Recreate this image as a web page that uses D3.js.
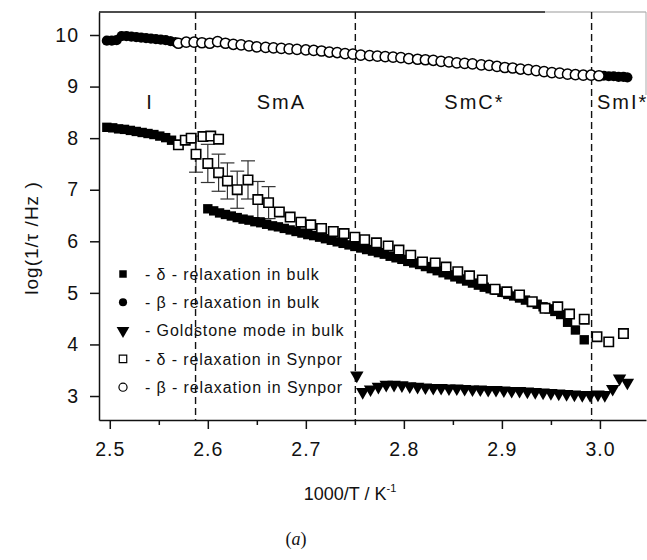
<!DOCTYPE html>
<html>
<head>
<meta charset="utf-8">
<script src="https://cdn.jsdelivr.net/npm/d3@7"></script>
<style>
  body { margin: 0; background: #fff; }
  svg { display: block; }
  text { font-family: "Liberation Sans", Arial, sans-serif; fill: #111; }
</style>
</head>
<body>
<div id="chart"></div>
<script>
// ---- Data: [1000/T, log(1/tau)] ----
const deltaBulk = [
  [2.497, 8.21], [2.503, 8.20], [2.509, 8.18], [2.515, 8.17], [2.521, 8.15], [2.527, 8.13],
  [2.533, 8.11], [2.539, 8.09], [2.545, 8.07], [2.551, 8.04], [2.557, 8.01], [2.563, 7.96],
  [2.600, 6.63], [2.606, 6.59], [2.612, 6.55], [2.618, 6.52], [2.624, 6.49], [2.630, 6.46],
  [2.636, 6.43], [2.642, 6.41], [2.648, 6.38], [2.654, 6.36], [2.660, 6.33], [2.666, 6.30],
  [2.672, 6.28], [2.678, 6.25], [2.684, 6.22], [2.690, 6.19], [2.696, 6.16], [2.702, 6.13],
  [2.708, 6.11], [2.714, 6.08], [2.720, 6.05], [2.726, 6.02], [2.732, 5.99], [2.738, 5.96],
  [2.744, 5.93], [2.750, 5.90], [2.756, 5.87], [2.762, 5.84], [2.768, 5.81], [2.774, 5.78],
  [2.780, 5.75], [2.786, 5.71], [2.792, 5.68], [2.798, 5.65], [2.804, 5.61], [2.810, 5.58],
  [2.816, 5.55], [2.822, 5.51], [2.828, 5.47], [2.834, 5.43], [2.840, 5.39], [2.846, 5.35],
  [2.852, 5.31], [2.858, 5.27], [2.864, 5.23], [2.870, 5.19], [2.876, 5.15], [2.882, 5.11],
  [2.888, 5.08], [2.894, 5.05], [2.900, 5.01], [2.906, 4.97], [2.912, 4.94], [2.918, 4.90],
  [2.924, 4.86], [2.930, 4.82], [2.936, 4.78], [2.942, 4.73], [2.948, 4.69], [2.954, 4.64],
  [2.960, 4.58], [2.967, 4.43], [2.975, 4.28], [2.984, 4.09]
];

const betaBulk = [
  [2.497, 9.89], [2.502, 9.89], [2.507, 9.90], [2.512, 9.98], [2.517, 9.98], [2.522, 9.97],
  [2.527, 9.96], [2.532, 9.95], [2.537, 9.94], [2.542, 9.93], [2.547, 9.92], [2.552, 9.91],
  [2.557, 9.90], [2.562, 9.88], [2.567, 9.86],
  [3.004, 9.21], [3.009, 9.20], [3.014, 9.20], [3.019, 9.19], [3.024, 9.19], [3.028, 9.18]
];

const goldstone = [
  [2.752, 3.40], [2.758, 3.08], [2.766, 3.13], [2.774, 3.18], [2.782, 3.22], [2.790, 3.22],
  [2.798, 3.21], [2.806, 3.19], [2.814, 3.18], [2.822, 3.17], [2.830, 3.16], [2.838, 3.16],
  [2.846, 3.15], [2.854, 3.15], [2.862, 3.14], [2.870, 3.13], [2.878, 3.13], [2.886, 3.12],
  [2.894, 3.12], [2.902, 3.11], [2.910, 3.10], [2.918, 3.10], [2.926, 3.09], [2.934, 3.08],
  [2.942, 3.07], [2.950, 3.06], [2.958, 3.05], [2.966, 3.04], [2.974, 3.03], [2.982, 3.02],
  [2.990, 3.02], [2.998, 3.03], [3.005, 3.02], [3.013, 3.14], [3.020, 3.34], [3.028, 3.26]
];

// [1000/T, log(1/tau), error]
const deltaSynpor = [
  [2.570, 7.87, 0], [2.577, 7.96, 0], [2.583, 8.00, 0], [2.595, 8.03, 0], [2.603, 8.04, 0],
  [2.611, 7.98, 0],
  [2.588, 7.69, 0.35], [2.600, 7.51, 0.37], [2.611, 7.33, 0.36], [2.620, 7.17, 0.35],
  [2.630, 7.00, 0.36], [2.641, 7.19, 0.37], [2.651, 6.81, 0.35], [2.662, 6.75, 0.31],
  [2.673, 6.57, 0], [2.684, 6.47, 0], [2.695, 6.37, 0], [2.705, 6.32, 0], [2.716, 6.25, 0],
  [2.728, 6.19, 0], [2.739, 6.15, 0], [2.750, 6.08, 0], [2.760, 6.03, 0], [2.772, 5.97, 0],
  [2.784, 5.91, 0], [2.795, 5.83, 0], [2.807, 5.73, 0], [2.819, 5.60, 0], [2.832, 5.58, 0],
  [2.843, 5.50, 0], [2.855, 5.41, 0], [2.867, 5.33, 0], [2.880, 5.25, 0], [2.893, 5.07, 0],
  [2.905, 5.02, 0], [2.918, 4.96, 0], [2.931, 4.83, 0], [2.944, 4.70, 0], [2.957, 4.73, 0],
  [2.969, 4.59, 0], [2.984, 4.49, 0], [2.997, 4.15, 0], [3.009, 4.05, 0], [3.024, 4.21, 0]
];

const betaSynpor = [
  [2.570, 9.84], [2.578, 9.86], [2.586, 9.86], [2.594, 9.85], [2.602, 9.84], [2.610, 9.87],
  [2.618, 9.84], [2.626, 9.82], [2.634, 9.81], [2.642, 9.79], [2.650, 9.77], [2.659, 9.76],
  [2.667, 9.75], [2.675, 9.74], [2.683, 9.73], [2.691, 9.72], [2.700, 9.71], [2.708, 9.70],
  [2.716, 9.69], [2.724, 9.67], [2.732, 9.66], [2.740, 9.64], [2.748, 9.63], [2.756, 9.61],
  [2.765, 9.60], [2.773, 9.59], [2.781, 9.58], [2.789, 9.57], [2.797, 9.56], [2.805, 9.54],
  [2.814, 9.53], [2.822, 9.52], [2.830, 9.51], [2.838, 9.49], [2.846, 9.48], [2.854, 9.46],
  [2.862, 9.45], [2.870, 9.44], [2.879, 9.42], [2.887, 9.41], [2.895, 9.39], [2.903, 9.37],
  [2.911, 9.36], [2.919, 9.34], [2.927, 9.33], [2.935, 9.31], [2.943, 9.29], [2.951, 9.27],
  [2.959, 9.26], [2.967, 9.24], [2.975, 9.23], [2.983, 9.22], [2.991, 9.22], [2.999, 9.21]
];

// phase boundaries and labels
const boundaries = [2.5875, 2.7505, 2.9915];
const phaseLabels = [
  { text: "I", x: 2.541 },
  { text: "SmA", x: 2.675 },
  { text: "SmC*", x: 2.872 },
  { text: "SmI*", x: 2.997, anchor: "start" }
];

const xTicks = [2.5, 2.6, 2.7, 2.8, 2.9, 3.0];
const xMinorTicks = [2.55, 2.65, 2.75, 2.85, 2.95];
const yTicks = [3, 4, 5, 6, 7, 8, 9, 10];

const legendItems = [
  { shape: "squareFilled", label: "- δ - relaxation in bulk" },
  { shape: "circleFilled", label: "- β - relaxation in bulk" },
  { shape: "triangle", label: "- Goldstone mode in bulk" },
  { shape: "squareOpen", label: "- δ - relaxation in Synpor" },
  { shape: "circleOpen", label: "- β - relaxation in Synpor" }
];

// ---- Layout ----
const W = 647, H = 560;
const plot = { left: 99, right: 646, top: 12, bottom: 420 };

const svg = d3.select("#chart").append("svg")
  .attr("width", W).attr("height", H);

const x = d3.scaleLinear().domain([2.489, 3.047]).range([plot.left, plot.right]);
const y = d3.scaleLinear().domain([2.535, 10.446]).range([plot.bottom, plot.top]);

// ---- Frame ----
svg.append("line")
  .attr("x1", plot.left).attr("x2", 545).attr("y1", plot.top).attr("y2", plot.top)
  .attr("stroke", "#111").attr("stroke-width", 1.4);
svg.append("line")
  .attr("x1", 545).attr("x2", plot.right).attr("y1", plot.top).attr("y2", plot.top)
  .attr("stroke", "#999").attr("stroke-width", 1.2);
svg.append("line")
  .attr("x1", plot.right).attr("x2", plot.right).attr("y1", plot.top).attr("y2", 95)
  .attr("stroke", "#aaa").attr("stroke-width", 1);

// ---- Axes ----
const xAxis = svg.append("g")
  .attr("transform", `translate(0,${plot.bottom})`)
  .call(d3.axisBottom(x).tickValues(xTicks).tickFormat(d3.format(".1f"))
    .tickSize(9).tickPadding(13).tickSizeOuter(0));
svg.append("g")
  .attr("transform", `translate(0,${plot.bottom})`)
  .call(d3.axisBottom(x).tickValues(xMinorTicks).tickFormat("").tickSize(5).tickSizeOuter(0))
  .call(g => g.select(".domain").remove());

const yAxis = svg.append("g")
  .attr("transform", `translate(${plot.left},0)`)
  .call(d3.axisLeft(y).tickValues(yTicks).tickSize(9).tickPadding(11).tickSizeOuter(0));

[xAxis, yAxis].forEach(g => {
  g.select(".domain").attr("stroke", "#111").attr("stroke-width", 1.5);
  g.selectAll(".tick text")
    .style("font-size", "19.5px")
    .style("letter-spacing", "1px")
    .attr("fill", "#111");
});
svg.selectAll(".tick line").attr("stroke", "#111").attr("stroke-width", 1.5);

// ---- Phase boundaries ----
svg.selectAll("line.boundary")
  .data(boundaries)
  .join("line")
  .attr("class", "boundary")
  .attr("x1", d => x(d)).attr("x2", d => x(d))
  .attr("y1", plot.top).attr("y2", plot.bottom)
  .attr("stroke", "#111")
  .attr("stroke-width", 1.4)
  .attr("stroke-dasharray", "7,4");

svg.selectAll("text.phase")
  .data(phaseLabels)
  .join("text")
  .attr("class", "phase")
  .attr("x", d => x(d.x))
  .attr("y", 109)
  .attr("text-anchor", d => d.anchor || "middle")
  .style("font-size", "20px")
  .style("letter-spacing", "2px")
  .text(d => d.text);

// ---- Marker helpers ----
const sym = {
  square: d3.symbol().type(d3.symbolSquare).size(88),
  squareSmall: d3.symbol().type(d3.symbolSquare).size(56),
  circle: d3.symbol().type(d3.symbolCircle).size(82),
  circleSmall: d3.symbol().type(d3.symbolCircle).size(52),
  tri: d3.symbol().type(d3.symbolTriangle).size(78),
  triSmall: d3.symbol().type(d3.symbolTriangle).size(70)
};

// error bars (behind the markers)
const errPts = deltaSynpor.filter(d => d[2] > 0);
const eb = svg.append("g").attr("stroke", "#333").attr("stroke-width", 1.2);
eb.selectAll("line.v").data(errPts).join("line")
  .attr("x1", d => x(d[0])).attr("x2", d => x(d[0]))
  .attr("y1", d => y(d[1] + d[2])).attr("y2", d => y(d[1] - d[2]));
eb.selectAll("line.top").data(errPts).join("line")
  .attr("x1", d => x(d[0]) - 7).attr("x2", d => x(d[0]) + 7)
  .attr("y1", d => y(d[1] + d[2])).attr("y2", d => y(d[1] + d[2]));
eb.selectAll("line.bot").data(errPts).join("line")
  .attr("x1", d => x(d[0]) - 7).attr("x2", d => x(d[0]) + 7)
  .attr("y1", d => y(d[1] - d[2])).attr("y2", d => y(d[1] - d[2]));

// δ bulk: filled squares
svg.append("g").selectAll("path").data(deltaBulk).join("path")
  .attr("d", sym.square)
  .attr("transform", d => `translate(${x(d[0])},${y(d[1])})`)
  .attr("fill", "#000");

// β bulk: filled circles
svg.append("g").selectAll("path").data(betaBulk).join("path")
  .attr("d", sym.circle)
  .attr("transform", d => `translate(${x(d[0])},${y(d[1])})`)
  .attr("fill", "#000");

// Goldstone mode: filled down triangles
svg.append("g").selectAll("path").data(goldstone).join("path")
  .attr("d", sym.tri)
  .attr("transform", d => `translate(${x(d[0])},${y(d[1])}) rotate(180)`)
  .attr("fill", "#000");

// δ Synpor: open squares
svg.append("g").selectAll("path").data(deltaSynpor).join("path")
  .attr("d", sym.square)
  .attr("transform", d => `translate(${x(d[0])},${y(d[1])})`)
  .attr("fill", "#fff").attr("stroke", "#000").attr("stroke-width", 1.6);

// β Synpor: open circles
svg.append("g").selectAll("path").data(betaSynpor).join("path")
  .attr("d", sym.circle)
  .attr("transform", d => `translate(${x(d[0])},${y(d[1])})`)
  .attr("fill", "#fff").attr("stroke", "#000").attr("stroke-width", 1.5);

// ---- Legend ----
const legend = svg.append("g").attr("transform", "translate(123,274)");
const row = legend.selectAll("g").data(legendItems).join("g")
  .attr("transform", (d, i) => `translate(0,${i * 28.3})`);

row.append("path")
  .attr("d", d => d.shape.startsWith("square") ? sym.squareSmall()
    : d.shape.startsWith("circle") ? sym.circleSmall() : sym.triSmall())
  .attr("transform", d => d.shape === "triangle" ? "rotate(180)" : null)
  .attr("fill", d => d.shape.endsWith("Open") ? "#fff" : "#000")
  .attr("stroke", d => d.shape.endsWith("Open") ? "#000" : "none")
  .attr("stroke-width", 1.2);

row.append("text")
  .attr("x", 22).attr("dy", "0.35em")
  .style("font-size", "16px")
  .style("letter-spacing", "0.9px")
  .text(d => d.label);

// ---- Axis titles ----
svg.append("text")
  .attr("transform", "translate(38,238) rotate(-90)")
  .attr("text-anchor", "middle")
  .style("font-size", "19px")
  .style("letter-spacing", "1px")
  .text("log(1/τ /Hz )");

const xt = svg.append("text")
  .attr("x", 350).attr("y", 500)
  .attr("text-anchor", "middle")
  .style("font-size", "18px");
xt.append("tspan").text("1000/T / K");
xt.append("tspan").attr("dy", -8).style("font-size", "11px").text("-1");

const cap = svg.append("text")
  .attr("x", 296).attr("y", 545)
  .attr("text-anchor", "middle")
  .style("font-family", "'Liberation Serif', 'DejaVu Serif', serif")
  .style("font-size", "18px");
cap.append("tspan").text("(");
cap.append("tspan").style("font-style", "italic").text("a");
cap.append("tspan").text(")");
</script>
</body>
</html>
